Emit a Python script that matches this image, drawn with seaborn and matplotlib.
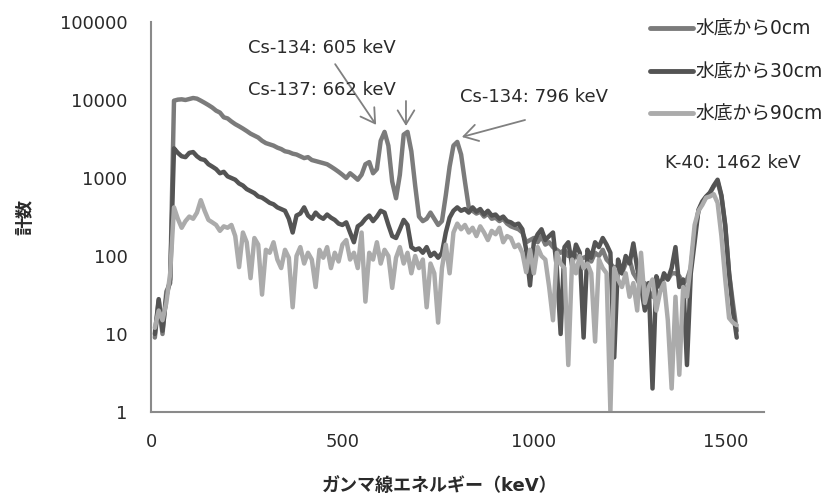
import numpy as np
import pandas as pd
import seaborn as sns
import matplotlib.pyplot as plt
from matplotlib.lines import Line2D

# エネルギーチャンネル (10 keV 刻み)
energy_kev = list(range(10, 1540, 10))

counts_0cm = [
    9, 27, 10, 35, 45, 9800, 10100, 10200, 10000, 10300,
    10600, 10400, 9800, 9200, 8600, 8000, 7300, 6900, 6000, 5800,
    5300, 4900, 4600, 4300, 4000, 3700, 3500, 3300, 3000, 2800,
    2700, 2600, 2450, 2350, 2200, 2150, 2050, 2000, 1900, 1800,
    1850, 1700, 1650, 1600, 1550, 1500, 1400, 1300, 1200, 1100,
    1000, 1150, 1050, 950, 1100, 1500, 1600, 1150, 1300, 3000,
    3900, 2600, 900, 550, 1100, 3600, 3900, 2200, 800, 320,
    280, 300, 360, 300, 250, 280, 600, 1400, 2600, 2900,
    2000, 900, 420, 380, 350, 370, 320, 350, 300, 310,
    280, 300, 260, 240, 230, 220, 200, 150, 160, 170,
    150, 180, 140, 150, 130, 120, 110, 120, 100, 110,
    100, 90, 95, 100, 85, 110, 100, 120, 90, 80,
    70, 75, 60, 80, 90, 60, 50, 40, 45, 35,
    30, 45, 40, 55, 50, 60, 60, 55, 45, 50,
    70, 200, 380, 480, 570, 640, 780, 900, 580, 240,
    60, 25, 11,
]

counts_30cm = [
    10, 28, 11, 30, 50, 2400, 2100, 1900, 1850, 2100,
    2150, 1900, 1750, 1700, 1500, 1400, 1300, 1150, 1200, 1050,
    1000, 950, 850, 800, 720, 680, 640, 580, 560, 520,
    480, 460, 420, 400, 380, 300, 200, 330, 350, 420,
    330, 300, 360, 320, 300, 340, 310, 290, 260, 250,
    270, 200, 150, 240, 260, 300, 330, 280, 320, 380,
    360, 250, 180, 170, 220, 290, 250, 130, 120, 125,
    110, 130, 100, 110, 95, 110, 200, 310, 380, 420,
    380, 400, 360, 420, 370, 400, 340, 380, 330, 340,
    300, 320, 280, 270, 250, 260, 220, 120, 42, 150,
    190, 220, 160, 180, 200, 70, 10, 130, 150, 75,
    140, 110, 9, 120, 95, 150, 130, 170, 140, 110,
    5, 90, 60, 100, 80, 145, 70, 40, 20, 45,
    2, 55, 40, 60, 50, 70, 130, 40, 50, 4,
    60, 150, 390, 500, 580, 650, 800, 950, 600, 250,
    60, 20, 9,
]

counts_90cm = [
    12, 20, 15, 25, 60, 420, 300, 230, 280, 320,
    300, 360, 520, 380, 290, 270, 250, 210, 240, 230,
    250, 180, 72, 200, 150, 52, 170, 140, 32, 120,
    110, 150, 90, 70, 120, 95, 22, 100, 130, 80,
    110, 90, 40, 120, 95, 130, 70, 110, 85, 140,
    160, 90, 110, 70, 200, 26, 110, 90, 150, 80,
    120, 100, 39, 95, 130, 80, 110, 60, 100, 70,
    90, 22, 80, 60, 14, 70, 140, 60, 200, 260,
    220, 250, 200, 230, 180, 240, 200, 160, 210, 190,
    230, 150, 180, 170, 130, 140, 110, 62, 120, 60,
    130, 100, 90, 40, 15, 110, 80, 70, 4, 90,
    60, 100, 70, 80, 60, 8, 90, 70, 60, 1,
    70, 50, 40, 60, 30, 45, 20, 110, 25, 40,
    50, 20, 35, 45, 15, 2, 30, 3, 40, 30,
    80, 250, 380, 450, 560, 580, 620, 480, 180, 50,
    16, 14, 13,
]

labels = ['水底から0cm', '水底から30cm', '水底から90cm']
colors = ['#7b7b7b', '#545454', '#ababab']

# 注記 (テキスト, テキスト位置, 矢印の始点, 矢印の先端)
peak_notes = [
    ('Cs-134: 605 keV', (253, 46400), (481, 28800), (588, 4800)),
    ('Cs-137: 662 keV', (253, 13400), (666, 9700), (666, 4640)),
    ('Cs-134: 796 keV', (807, 10900), (977, 5540), (812, 3355)),
    ('K-40: 1462 keV', (1343, 1560), None, None),
]

df = pd.concat([
    pd.DataFrame({'energy': energy_kev, 'count': c, 'depth': lab})
    for c, lab in zip([counts_0cm, counts_30cm, counts_90cm], labels)
])

sns.set_style('white')
plt.rcParams['font.family'] = ['DejaVu Sans', 'Noto Sans CJK JP']

fig = plt.figure(figsize=(8.33, 4.94), dpi=100)
ax = fig.add_axes([0.1813, 0.166, 0.7353, 0.7895])

sns.lineplot(data=df, x='energy', y='count', hue='depth', hue_order=labels,
             palette=dict(zip(labels, colors)), estimator=None, sort=False,
             linewidth=3.2, legend=False, ax=ax)

ax.set_yscale('log')
ax.set_ylim(1, 100000)
ax.set_xlim(0, 1600)
ax.set_yticks([1, 10, 100, 1000, 10000, 100000])
ax.set_yticklabels(['1', '10', '100', '1000', '10000', '100000'])
ax.set_xticks([0, 500, 1000, 1500])
ax.minorticks_off()

for s in ['top', 'right']:
    ax.spines[s].set_visible(False)
for s in ['left', 'bottom']:
    ax.spines[s].set_color('#8a8a8a')
    ax.spines[s].set_linewidth(1.5)
ax.tick_params(axis='both', direction='out', length=5, width=1.3,
               color='#8a8a8a', labelsize=13, labelcolor='#2a2a2a')
ax.tick_params(axis='y', pad=12)
ax.tick_params(axis='x', pad=10)

ax.set_xlabel('ガンマ線エネルギー（keV）', fontsize=13, fontweight='bold',
              color='#2a2a2a')
ax.set_ylabel('計数', fontsize=13, fontweight='bold', color='#2a2a2a')
ax.xaxis.set_label_coords(0.472, -0.167)
ax.yaxis.set_label_coords(-0.19, 0.5)

for text, txy, start, tip in peak_notes:
    ax.text(txy[0], txy[1], text, fontsize=13, color='#2a2a2a',
            ha='left', va='center')
    if start is not None:
        ax.annotate('', xy=tip, xytext=start,
                    arrowprops=dict(arrowstyle='->,head_length=0.5,head_width=0.3',
                                    color='#808080', lw=1.3, mutation_scale=20,
                                    shrinkA=0, shrinkB=0))

handles = [Line2D([], [], color=c, lw=3.5) for c in colors]
ax.legend(handles, labels, loc='upper left', bbox_to_anchor=(650 / 833, 1 - 20 / 494),
          bbox_transform=fig.transFigure, frameon=False, fontsize=13.5,
          handlelength=2.3, handletextpad=0.15, labelspacing=1.25,
          borderpad=0, borderaxespad=0)

fig.savefig('out.png', dpi=100, facecolor='white')
